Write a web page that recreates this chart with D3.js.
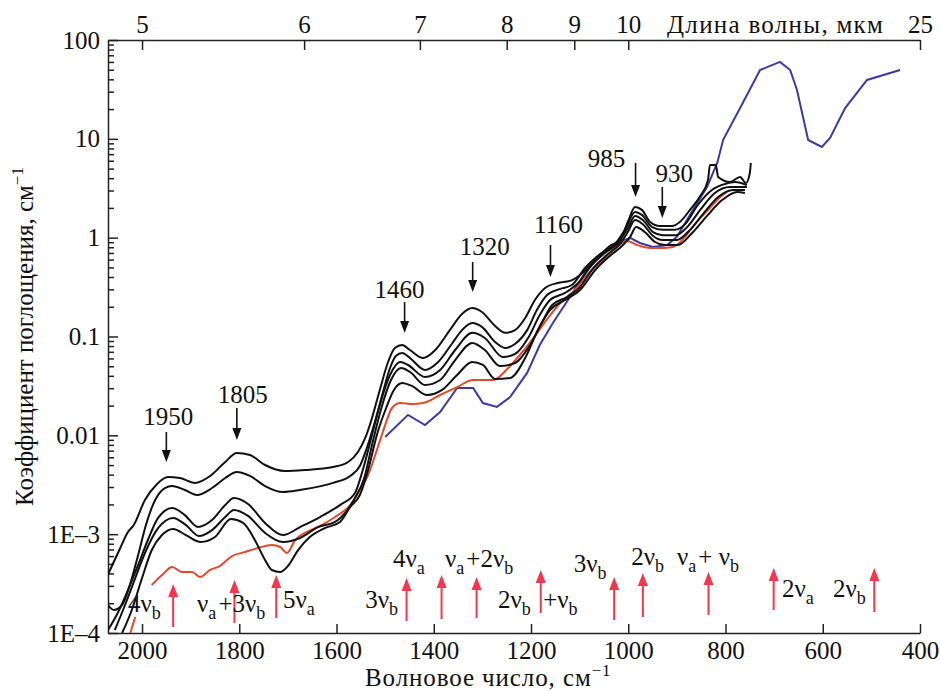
<!DOCTYPE html>
<html>
<head>
<meta charset="utf-8">
<script src="https://cdn.jsdelivr.net/npm/d3@7"></script>
<style>
  body { margin: 0; background: #fff; }
  svg text { font-family: "Liberation Serif", "DejaVu Serif", serif; fill: #111; }
</style>
</head>
<body>
<div id="chart"></div>
<script>
// absorption spectra: [wavenumber cm-1, absorption coefficient cm-1]
var spec1 = [[2070,3.9e-4],[2045,7.2e-4],[2029,1.05e-3],[2017,1.24e-3],[1994,2.22e-3],[1969,3.22e-3],[1947,3.79e-3],[1922,3.70e-3],[1891,3.30e-3],[1860,3.88e-3],[1829,5.37e-3],[1805,6.63e-3],[1778,6.32e-3],[1747,5.01e-3],[1706,4.36e-3],[1665,4.46e-3],[1607,4.78e-3],[1576,5.37e-3],[1556,6.78e-3],[1541,9.4e-3],[1527,0.015],[1511,0.0288],[1494,0.0552],[1480,0.0765],[1465,0.082],[1449,0.073],[1422,0.0606],[1397,0.073],[1367,0.116],[1342,0.169],[1321,0.194],[1301,0.177],[1274,0.128],[1253,0.109],[1233,0.116],[1212,0.154],[1192,0.234],[1171,0.31],[1145,0.348],[1120,0.365],[1099,0.419],[1068,0.594],[1038,0.824],[1017,0.948],[1001,1.44],[986,2.04],[972,1.91],[955,1.44],[935,1.31],[910,1.31],[894,1.44],[873,1.91],[852,2.64],[836,3.84],[832,5.43],[820,5.43],[815,4.11],[791,3.66],[770,4.11],[758,3.57],[750,4.51],[748,5.7]];
var spec2 = [[2070,1.92e-4],[2058,1.71e-4],[2041,1.92e-4],[2025,3.06e-4],[2008,6.15e-4],[1992,1.24e-3],[1973,2.22e-3],[1953,2.93e-3],[1938,3.07e-3],[1912,2.80e-3],[1887,2.49e-3],[1856,2.93e-3],[1829,3.70e-3],[1805,4.26e-3],[1778,3.88e-3],[1747,3.07e-3],[1710,2.67e-3],[1675,2.80e-3],[1607,3.30e-3],[1572,3.88e-3],[1552,4.89e-3],[1539,7.11e-3],[1523,0.0127],[1506,0.0256],[1490,0.048],[1478,0.0635],[1465,0.0681],[1449,0.0606],[1418,0.0458],[1391,0.0552],[1363,0.084],[1342,0.116],[1321,0.137],[1301,0.125],[1274,0.088],[1253,0.0765],[1233,0.084],[1208,0.116],[1188,0.185],[1167,0.263],[1140,0.303],[1116,0.332],[1089,0.493],[1058,0.684],[1027,0.863],[1007,1.2],[986,1.82],[972,1.7],[951,1.28],[929,1.2],[904,1.2],[883,1.37],[857,2.14],[828,3.04],[801,3.49],[780,3.66],[756,3.41]];
var spec3 = [[2070,1.07e-4],[2049,1.63e-4],[2029,2.72e-4],[2008,4.88e-4],[1988,8.73e-4],[1967,1.46e-3],[1938,1.84e-3],[1912,1.56e-3],[1885,1.18e-3],[1856,1.39e-3],[1829,1.97e-3],[1811,2.32e-3],[1782,2.02e-3],[1747,1.30e-3],[1710,9.8e-4],[1675,1.18e-3],[1634,1.49e-3],[1593,1.97e-3],[1562,2.61e-3],[1546,4.46e-3],[1527,0.0101],[1511,0.0203],[1490,0.0408],[1469,0.0552],[1453,0.0515],[1418,0.0389],[1387,0.0458],[1356,0.073],[1321,0.109],[1295,0.0966],[1258,0.062],[1233,0.0665],[1206,0.0966],[1182,0.165],[1161,0.234],[1130,0.276],[1103,0.348],[1075,0.529],[1048,0.70],[1021,0.883],[1001,1.25],[986,1.66],[970,1.51],[949,1.14],[929,1.06],[902,1.06],[877,1.31],[852,1.91],[822,2.83],[791,3.26],[756,3.26]];
var spec4 = [[2056,1.07e-4],[2035,1.92e-4],[2014,3.6e-4],[1994,6.45e-4],[1967,1.15e-3],[1936,1.46e-3],[1910,1.24e-3],[1883,9.58e-4],[1856,1.10e-3],[1829,1.49e-3],[1811,1.76e-3],[1782,1.53e-3],[1747,1.03e-3],[1710,8.33e-4],[1675,9.15e-4],[1638,1.18e-3],[1603,1.33e-3],[1562,2.32e-3],[1543,3.70e-3],[1527,7.98e-3],[1509,0.018],[1488,0.0363],[1467,0.048],[1449,0.0438],[1418,0.0323],[1387,0.0363],[1356,0.0578],[1321,0.086],[1295,0.073],[1264,0.0503],[1233,0.0539],[1202,0.082],[1177,0.14],[1157,0.208],[1126,0.251],[1099,0.317],[1072,0.493],[1044,0.668],[1017,0.863],[1001,1.14],[986,1.51],[970,1.37],[949,1.04],[929,0.948],[900,0.948],[873,1.2],[846,1.74],[815,2.58],[785,3.04],[760,3.04]];
var spec5 = [[2041,1e-4],[2021,1.71e-4],[2000,3.6e-4],[1980,6.91e-4],[1959,9.8e-4],[1936,1.13e-3],[1910,9.8e-4],[1879,8.33e-4],[1850,9.36e-4],[1817,1.42e-3],[1792,1.30e-3],[1768,8.73e-4],[1747,5.48e-4],[1733,4.34e-4],[1716,4.14e-4],[1700,4.76e-4],[1679,6.91e-4],[1655,9.36e-4],[1624,1.15e-3],[1593,1.33e-3],[1572,1.88e-3],[1552,2.49e-3],[1535,4.46e-3],[1517,0.0101],[1498,0.0189],[1482,0.0288],[1465,0.0339],[1445,0.0316],[1414,0.0256],[1383,0.0288],[1352,0.0408],[1321,0.0552],[1299,0.0515],[1274,0.0372],[1243,0.038],[1212,0.0606],[1186,0.116],[1161,0.185],[1130,0.234],[1099,0.296],[1068,0.471],[1038,0.653],[1013,0.824],[996,1.02],[984,1.28],[966,1.14],[945,0.904],[925,0.843],[898,0.843],[869,1.11],[838,1.66],[807,2.4],[776,2.9],[760,2.83]];
var redTail = [[2027,9e-5],[2014,1.45e-4]];
var redSpec = [[1980,3.06e-4],[1959,3.86e-4],[1938,4.65e-4],[1918,4.14e-4],[1897,4.14e-4],[1881,3.69e-4],[1860,4.34e-4],[1840,4.76e-4],[1815,6.01e-4],[1788,6.6e-4],[1762,7.24e-4],[1733,7.77e-4],[1716,7.42e-4],[1702,6.45e-4],[1685,8.73e-4],[1665,1.03e-3],[1634,1.21e-3],[1603,1.49e-3],[1572,1.97e-3],[1552,2.8e-3],[1535,3.97e-3],[1517,7.11e-3],[1500,0.0127],[1486,0.0189],[1469,0.0212],[1445,0.0207],[1422,0.0212],[1387,0.0256],[1352,0.0308],[1319,0.0363],[1278,0.0363],[1247,0.048],[1223,0.065],[1192,0.101],[1165,0.154],[1140,0.218],[1110,0.296],[1079,0.45],[1048,0.622],[1021,0.824],[1003,0.925],[982,0.843],[955,0.787],[931,0.787],[908,0.805],[883,1.02],[863,1.37],[832,2.0],[811,2.58],[797,2.9]];
var blueSpec = [[1500,9.62e-3],[1453,0.0161],[1418,0.0127],[1387,0.0172],[1352,0.0301],[1319,0.0301],[1299,0.0212],[1270,0.0194],[1243,0.0244],[1208,0.0428],[1182,0.082],[1155,0.137],[1120,0.251],[1085,0.471],[1052,0.70],[1017,0.904],[996,0.993],[976,0.883],[949,0.805],[920,0.843],[900,1.02],[867,1.91],[838,3.26],[817,5.7],[805,9.73],[770,20.5],[729,49.7],[688,60],[667,49.7],[653,31.2],[630,9.73],[602,8.28],[585,10.2],[554,20.5],[509,39.4],[441,49.7]];

// peaks marked with black arrows
var peakWn = [1950, 1805, 1460, 1320, 1160, 985, 930];
// band assignments marked with red arrows
var bandWn = [1936, 1810, 1724, 1456, 1384, 1312, 1180, 1029, 970, 835, 701, 494];
var bandLabels = ["4ν_b", "ν_a+3ν_b", "5ν_a", "3ν_b", "4ν_a", "ν_a+2ν_b", "2ν_b", "+ν_b", "3ν_b", "2ν_b", "ν_a+ ν_b", "2ν_a", "2ν_b"];
var bandLabelWn = [2029, 1887, 1710, 1541, 1484, 1377, 1268, 1175, 1112, 994, 900, 684, 579];

// ticks
var xTicks = [2000, 1800, 1600, 1400, 1200, 1000, 800, 600, 400];
var wlTicks = [5, 6, 7, 8, 9, 10, 25];
var yTicks = [1e-4, 1e-3, 0.01, 0.1, 1, 10, 100];
var yTickLabels = ["1E–4", "1E–3", "0.01", "0.1", "1", "10", "100"];

var width = 940, height = 691;
var pL = 108, pR = 920, pT = 40, pB = 633;
var serif = '"Liberation Serif", "DejaVu Serif", serif';

var x = d3.scaleLinear().domain([2070, 400]).range([pL, pR]);
var y = d3.scaleLog().domain([1e-4, 100]).range([pB, pT]);

var svg = d3.select('#chart').append('svg')
  .attr('width', width).attr('height', height)
  .attr('font-family', serif);

svg.append('clipPath').attr('id', 'plotclip')
  .append('rect').attr('x', pL).attr('y', pT)
  .attr('width', pR - pL).attr('height', pB - pT);

// axes
function styleAxis(g, size) {
  g.attr('font-family', serif).attr('font-size', size);
  g.selectAll('text').style('font-size', size + 'px').attr('fill', '#111');
  g.selectAll('path, line').attr('stroke', '#222').attr('stroke-width', 1.5);
}

var minor = [];
for (var k = -4; k < 2; k++) {
  for (var m = 2; m <= 9; m++) minor.push(m * Math.pow(10, k));
}
svg.append('g').attr('transform', 'translate(' + pL + ',0)')
  .call(d3.axisLeft(y).tickValues(minor).tickFormat('').tickSizeInner(-6).tickSizeOuter(0))
  .call(function(g) { styleAxis(g, 24); g.select('.domain').remove(); });

svg.append('g').attr('transform', 'translate(' + pL + ',0)')
  .call(d3.axisLeft(y).tickValues(yTicks).tickFormat(function(d, i) { return yTickLabels[i]; })
    .tickSizeInner(-10).tickSizeOuter(0).tickPadding(8))
  .call(function(g) { styleAxis(g, 25); });

svg.append('g').attr('transform', 'translate(0,' + pB + ')')
  .call(d3.axisBottom(x).tickValues(xTicks).tickFormat(d3.format('d'))
    .tickSizeInner(-9).tickSizeOuter(0).tickPadding(8))
  .call(function(g) { styleAxis(g, 25); });

svg.append('g').attr('transform', 'translate(0,' + pT + ')')
  .call(d3.axisTop(x).tickValues(wlTicks.map(function(l) { return 10000 / l; }))
    .tickFormat(function(d, i) { return wlTicks[i]; })
    .tickSizeInner(-10).tickSizeOuter(0).tickPadding(7))
  .call(function(g) { styleAxis(g, 25); });

// axis titles
var yt = svg.append('text')
  .attr('transform', 'translate(33,' + ((pT + pB) / 2) + ') rotate(-90)')
  .attr('text-anchor', 'middle').style('font-size', '25px');
yt.append('tspan').text('Коэффициент поглощения, см');
yt.append('tspan').attr('dy', -10).style('font-size', '17px').text('−1');

var xt = svg.append('text').attr('x', 365).attr('y', 686)
  .style('font-size', '25px').style('letter-spacing', '0.9px');
xt.append('tspan').text('Волновое число, см');
xt.append('tspan').attr('dy', -10).style('font-size', '17px').text('−1');

svg.append('text').attr('x', 667).attr('y', 33)
  .style('font-size', '25px').style('letter-spacing', '1.3px').text('Длина волны, мкм');

// spectra
var line = d3.line()
  .x(function(d) { return x(d[0]); })
  .y(function(d) { return y(d[1]); })
  .curve(d3.curveMonotoneX);
var plot = svg.append('g').attr('clip-path', 'url(#plotclip)');

plot.append('path').datum(blueSpec)
  .attr('d', line.curve(d3.curveLinear))
  .attr('fill', 'none').attr('stroke', '#3b3ba3').attr('stroke-width', 2);

line.curve(d3.curveMonotoneX);
[redTail, redSpec].forEach(function(s) {
  plot.append('path').datum(s).attr('d', line)
    .attr('fill', 'none').attr('stroke', '#e24a2c').attr('stroke-width', 2);
});

[spec1, spec2, spec3, spec4, spec5].forEach(function(s) {
  plot.append('path').datum(s).attr('d', line)
    .attr('fill', 'none').attr('stroke', '#111').attr('stroke-width', 2);
});

// black peak arrows: [arrow top, arrow tip, label dx, label baseline]
var peakLayout = [[432, 462, 2, 425], [408, 440, 6, 403], [302, 333, -5, 298], [262, 292, 12, 255],
                  [245, 277, 8, 233], [163, 197, -29, 167], [187, 218, 12, 182]];
peakWn.forEach(function(wn, i) {
  var px = x(wn), L = peakLayout[i];
  svg.append('line').attr('x1', px).attr('x2', px).attr('y1', L[0]).attr('y2', L[1] - 8)
    .attr('stroke', '#111').attr('stroke-width', 1.6);
  svg.append('path').attr('d', 'M' + (px - 4.5) + ',' + (L[1] - 12) + 'L' + (px + 4.5) + ',' + (L[1] - 12) + 'L' + px + ',' + L[1] + 'Z')
    .attr('fill', '#111');
  svg.append('text').attr('x', px + L[2]).attr('y', L[3]).attr('text-anchor', 'middle')
    .style('font-size', '25px').text(wn);
});

// red band arrows: [tip, tail]
var bandLayout = [[584, 627], [580, 623], [575, 618], [578, 621], [575, 619], [577, 618],
                  [570, 613], [577, 620], [573, 617], [572, 615], [568, 610], [568, 612]];
bandWn.forEach(function(wn, i) {
  var px = x(wn), L = bandLayout[i];
  svg.append('line').attr('x1', px).attr('x2', px).attr('y1', L[0] + 10).attr('y2', L[1])
    .attr('stroke', '#f2374e').attr('stroke-width', 2);
  svg.append('path').attr('d', 'M' + (px - 5) + ',' + (L[0] + 13) + 'L' + (px + 5) + ',' + (L[0] + 13) + 'L' + px + ',' + L[0] + 'Z')
    .attr('fill', '#f2374e');
});

// band labels, "_x" means subscript
var labelBase = [612, 612, 608, 608, 567, 567, 608, 608, 572, 565, 565, 597, 597];
bandLabels.forEach(function(lab, i) {
  var t = svg.append('text').attr('x', x(bandLabelWn[i])).attr('y', labelBase[i]).style('font-size', '25px');
  var parts = lab.split(/_(.)/);
  parts.forEach(function(p, j) {
    if (!p) return;
    if (j % 2 === 1) {
      t.append('tspan').attr('dy', 7).style('font-size', '18px').text(p);
      t.append('tspan').attr('dy', -7).text('\u200a');
    } else {
      t.append('tspan').text(p);
    }
  });
});
</script>
</body>
</html>
